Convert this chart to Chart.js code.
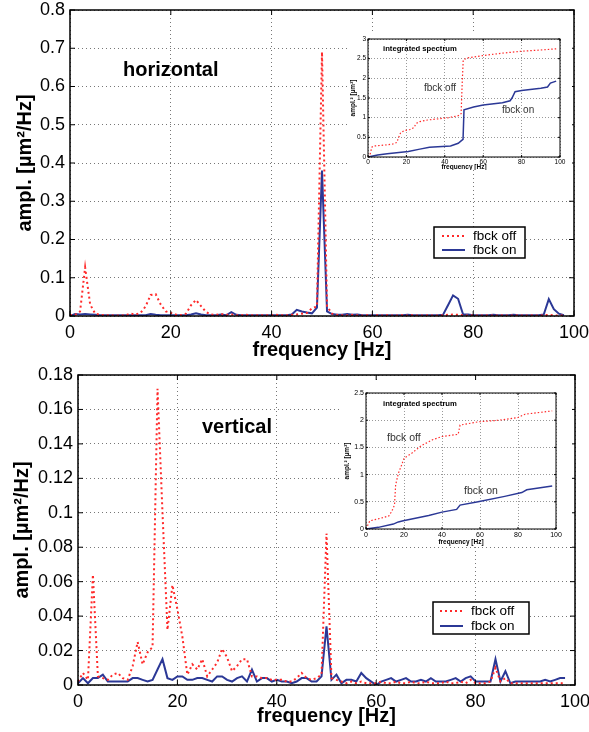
<!DOCTYPE html>
<html>
<head>
<meta charset="utf-8">
<script src="https://cdn.jsdelivr.net/npm/chart.js@4/dist/chart.umd.min.js"></script>
<style>
  body { margin: 0; background: #fff; width: 589px; height: 732px; position: relative; overflow: hidden; }
  canvas { position: absolute; }
  #insetTop, #insetBot { background: #fff; }
</style>
</head>
<body>
<canvas id="mainTop" width="589" height="360" style="left:0;top:0"></canvas>
<canvas id="mainBot" width="589" height="372" style="left:0;top:360px"></canvas>
<canvas id="insetTop" width="222" height="137" style="left:350px;top:33px"></canvas>
<canvas id="insetBot" width="232" height="164" style="left:340px;top:383px"></canvas>
<script>
const FONT = "'Liberation Sans', Arial, Helvetica, sans-serif";
const RED = '#ff2a2a';
const BLUE = '#2b3896';

// frequency bins of the spectra [Hz]
const freq = [0,1,2,3,4,5,6,7,8,9,10,11,12,13,14,15,16,17,18,19,20,21,22,23,24,25,26,27,28,29,
  30,31,32,33,34,35,36,37,38,39,40,41,42,43,44,45,46,47,48,49,50,51,52,53,54,55,56,57,58,59,
  60,61,62,63,64,65,66,67,68,69,70,71,72,73,74,75,76,77,78,79,80,81,82,83,84,85,86,87,88,89,
  90,91,92,93,94,95,96,97,98];

// horizontal spectrum [um^2/Hz]
const horOff = [0.002,0.003,0.012,0.127,0.03,0.006,0.003,0.002,0.002,0.001,0.001,0.002,0.006,0.004,0.008,0.025,0.055,0.057,0.03,0.012,
  0.008,0.004,0.002,0.006,0.028,0.042,0.026,0.01,0.004,0.003,0.005,0.003,0.004,0.002,0.002,0.003,0.002,0.002,0.002,0.002,
  0.002,0.003,0.002,0.002,0.003,0.004,0.006,0.008,0.02,0.025,0.69,0.025,0.006,0.003,0.002,0.002,0.003,0.002,0.001,0.002,
  0.001,0.002,0.001,0.002,0.001,0.001,0.002,0.001,0.002,0.001,0.001,0.002,0.001,0.001,0.002,0.003,0.004,0.003,0.002,0.001,
  0.002,0.001,0.001,0.002,0.001,0.001,0.002,0.001,0.001,0.002,0.001,0.001,0.002,0.001,0.002,0.003,0.002,0.001,0.001];
const horOn = [0,0.005,0.004,0.005,0.004,0.003,0.002,0.002,0.002,0.002,0.002,0.002,0.002,0.002,0.002,0.002,0.005,0.003,0.002,0.002,
  0.002,0.002,0.002,0.002,0.004,0.007,0.004,0.002,0.002,0.002,0.004,0.002,0.01,0.003,0.002,0.002,0.002,0.002,0.002,0.002,
  0.002,0.002,0.002,0.002,0.004,0.016,0.012,0.009,0.007,0.022,0.38,0.012,0.005,0.003,0.003,0.005,0.003,0.004,0.002,0.002,
  0.002,0.002,0.002,0.002,0.002,0.002,0.002,0.003,0.002,0.002,0.002,0.002,0.002,0.002,0.003,0.028,0.054,0.045,0.004,0.004,
  0.002,0.002,0.002,0.002,0.003,0.002,0.002,0.002,0.003,0.002,0.002,0.002,0.002,0.002,0.004,0.044,0.018,0.006,0.002];

// vertical spectrum [um^2/Hz]
const verOff = [0.002,0.007,0.003,0.064,0.005,0.004,0.003,0.006,0.007,0.004,0.003,0.011,0.025,0.012,0.019,0.022,0.172,0.1,0.032,0.058,
  0.044,0.028,0.006,0.012,0.009,0.015,0.005,0.009,0.013,0.021,0.016,0.008,0.011,0.015,0.015,0.005,0.005,0.004,0.004,0.003,
  0.003,0.003,0.002,0.002,0.004,0.007,0.004,0.003,0.004,0.006,0.088,0.004,0.003,0.002,0.001,0.002,0.001,0.002,0.001,0.001,
  0.001,0.002,0.001,0.001,0.002,0.001,0.001,0.002,0.001,0.001,0.002,0.001,0.001,0.001,0.002,0.001,0.001,0.002,0.001,0.003,
  0.001,0.001,0.001,0.002,0.01,0.002,0.004,0.001,0.001,0.001,0.001,0.001,0.001,0.001,0.001,0.001,0.001,0.001,0.001];
const verOn = [0.001,0.004,0.001,0.004,0.004,0.006,0.002,0.002,0.002,0.002,0.002,0.004,0.004,0.003,0.002,0.003,0.009,0.015,0.004,0.003,
  0.005,0.005,0.003,0.003,0.004,0.004,0.003,0.002,0.005,0.005,0.003,0.002,0.004,0.005,0.002,0.009,0.002,0.004,0.004,0.002,
  0.003,0.002,0.002,0.001,0.002,0.004,0.004,0.002,0.002,0.005,0.034,0.003,0.006,0.001,0.003,0.003,0.002,0.007,0.004,0.002,
  0,0.002,0.003,0.004,0.002,0.003,0.004,0.002,0.002,0.003,0.002,0.004,0.002,0.002,0.002,0.003,0.004,0.002,0.004,0.005,
  0.002,0.002,0.002,0.002,0.015,0.002,0.008,0.001,0.002,0.002,0.002,0.002,0.002,0.002,0.003,0.002,0.003,0.004,0.004];

// integrated spectra [um^2], read at the knees of each curve
const intHorOffF = [0,1,2,3,8,13,15,16,17,19,22,24,25,27,31,42,47,48.5,49,49.6,52,60,70,80,90,98];
const intHorOffV = [0,0.05,0.25,0.28,0.3,0.33,0.37,0.5,0.62,0.67,0.7,0.75,0.85,0.9,0.94,1.0,1.05,1.1,1.8,2.47,2.52,2.58,2.64,2.69,2.72,2.75];
const intHorOnF = [0,5,10,21,27,32,43,47,48.5,49.5,50,55,60,70,74,75,76.6,80,90,93.5,95,98];
const intHorOnV = [0,0.05,0.08,0.14,0.2,0.25,0.28,0.35,0.41,0.45,1.2,1.27,1.32,1.38,1.43,1.5,1.66,1.69,1.75,1.78,1.88,1.93];
const intVerOffF = [0,2,8,12,13.5,15,15.6,17,18.8,20,24,29,35,40,48.5,49.5,59,70,80,83.7,98];
const intVerOffV = [0,0.15,0.2,0.24,0.32,0.44,0.81,1.02,1.18,1.3,1.39,1.53,1.64,1.7,1.74,1.91,1.97,2.0,2.05,2.11,2.17];
const intVerOnF = [0,6.5,14.4,17,19.6,33,40,47.7,49.5,59,73,82,84.6,98];
const intVerOnV = [0,0.03,0.09,0.13,0.15,0.25,0.31,0.36,0.44,0.5,0.6,0.67,0.72,0.79];

const xTicksMain = [0, 20, 40, 60, 80, 100];

const pts = (xs, ys) => xs.map((x, i) => ({ x, y: ys[i] }));
const tickText = v => String(+v.toFixed(3));

// box round the plot area plus MATLAB style inward ticks
const framePlugin = {
  id: 'frame',
  afterDatasetsDraw(chart, args, o) {
    const { ctx, chartArea: a, scales } = chart;
    ctx.save();
    ctx.strokeStyle = '#000';
    ctx.lineWidth = o.tickWidth || 1;
    const len = o.tick || 0;
    if (len) {
      ctx.beginPath();
      scales.x.ticks.forEach(t => {
        const p = scales.x.getPixelForValue(t.value);
        ctx.moveTo(p, a.bottom); ctx.lineTo(p, a.bottom - len);
        ctx.moveTo(p, a.top); ctx.lineTo(p, a.top + len);
      });
      scales.y.ticks.forEach(t => {
        const p = scales.y.getPixelForValue(t.value);
        ctx.moveTo(a.left, p); ctx.lineTo(a.left + len, p);
        ctx.moveTo(a.right, p); ctx.lineTo(a.right - len, p);
      });
      ctx.stroke();
    }
    ctx.lineWidth = o.width || 1;
    ctx.strokeRect(a.left, a.top, a.right - a.left, a.bottom - a.top);
    ctx.restore();
  }
};

// boxed legend sitting inside the plot
const boxLegend = {
  id: 'boxLegend',
  afterDatasetsDraw(chart, args, o) {
    if (!o.box) return;
    const ctx = chart.ctx;
    const [x, y, w, h] = o.box;
    ctx.save();
    ctx.fillStyle = '#fff';
    ctx.fillRect(x, y, w, h);
    ctx.strokeStyle = '#000';
    ctx.lineWidth = 1.5;
    ctx.strokeRect(x, y, w, h);
    ctx.font = o.font;
    ctx.textBaseline = 'middle';
    chart.data.datasets.forEach((ds, i) => {
      const cy = y + o.rows[i];
      ctx.strokeStyle = ds.borderColor;
      ctx.lineWidth = ds.borderWidth;
      ctx.setLineDash(ds.borderDash || []);
      ctx.beginPath();
      ctx.moveTo(x + o.line[0], cy);
      ctx.lineTo(x + o.line[1], cy);
      ctx.stroke();
      ctx.setLineDash([]);
      ctx.fillStyle = '#000';
      ctx.fillText(ds.label, x + o.textX, cy);
    });
    ctx.restore();
  }
};

// free text notes
const notes = {
  id: 'notes',
  afterDatasetsDraw(chart, args, o) {
    const ctx = chart.ctx;
    ctx.save();
    ctx.textBaseline = 'middle';
    (o.items || []).forEach(n => {
      ctx.font = n.font;
      ctx.fillStyle = n.color || '#000';
      ctx.fillText(n.text, n.x, n.y);
    });
    ctx.restore();
  }
};

function makeChart(id, cfg) {
  const xAxis = {
    type: 'linear', min: 0, max: 100,
    afterBuildTicks: s => { s.ticks = xTicksMain.map(v => ({ value: v })); },
    afterFit: s => { s.height = cfg.xh; s.paddingLeft = 0; s.paddingRight = 0; },
    grid: { color: cfg.gridColor, lineWidth: 1, drawTicks: false },
    border: { display: false, dash: cfg.gridDash },
    ticks: { font: { family: FONT, size: cfg.tickSize }, color: '#000', padding: cfg.xPad, maxRotation: 0, callback: tickText },
    title: { display: true, text: 'frequency [Hz]', color: '#000',
      font: { family: FONT, size: cfg.titleSize, weight: 'bold', lineHeight: 1 },
      padding: { top: 0, bottom: cfg.xTitlePad } }
  };
  const yAxis = {
    type: 'linear', min: 0, max: cfg.yMax,
    afterFit: s => { s.width = cfg.yw; s.paddingTop = 0; s.paddingBottom = 0; },
    grid: { color: cfg.gridColor, lineWidth: 1, drawTicks: false },
    border: { display: false, dash: cfg.gridDash },
    ticks: { stepSize: cfg.yStep, font: { family: FONT, size: cfg.tickSize }, color: '#000', padding: cfg.yPad, callback: tickText },
    title: { display: true, text: cfg.yTitle, color: '#000',
      font: { family: FONT, size: cfg.titleSize, weight: 'bold', lineHeight: 1 },
      padding: { top: cfg.yTitlePad, bottom: 0 } }
  };
  return new Chart(document.getElementById(id), {
    type: 'line',
    data: { datasets: cfg.datasets },
    options: {
      responsive: false,
      animation: false,
      layout: { padding: cfg.pad },
      elements: { point: { radius: 0 }, line: { tension: 0 } },
      scales: { x: xAxis, y: yAxis },
      plugins: {
        legend: { display: false },
        tooltip: { enabled: false },
        frame: { width: cfg.frameW, tick: cfg.tickLen },
        boxLegend: cfg.legend || {},
        notes: { items: cfg.notes }
      }
    },
    plugins: [framePlugin, boxLegend, notes]
  });
}

const offStyle = (w, dash) => ({ label: 'fbck off', borderColor: RED, borderWidth: w, borderDash: dash });
const onStyle = w => ({ label: 'fbck on', borderColor: BLUE, borderWidth: w });

makeChart('mainTop', {
  datasets: [
    { ...offStyle(2, [2, 3]), data: pts(freq, horOff) },
    { ...onStyle(2), data: pts(freq, horOn) }
  ],
  yMax: 0.8, yStep: 0.1, yTitle: 'ampl. [µm²/Hz]',
  pad: { top: 10, right: 15, left: 0, bottom: 0 }, yw: 70, xh: 44,
  tickSize: 18, titleSize: 20, xPad: 6, yPad: 5, xTitlePad: 0, yTitlePad: 15,
  gridColor: '#777', gridDash: [1, 3], frameW: 1.5, tickLen: 5,
  legend: { box: [434, 227, 91, 31], rows: [9, 23], line: [8, 31], textX: 39, font: '13.5px ' + FONT },
  notes: [{ text: 'horizontal', x: 123, y: 70, font: 'bold 20px ' + FONT }]
});

makeChart('mainBot', {
  datasets: [
    { ...offStyle(2, [2, 3]), data: pts(freq, verOff) },
    { ...onStyle(2), data: pts(freq, verOn) }
  ],
  yMax: 0.18, yStep: 0.02, yTitle: 'ampl. [µm²/Hz]',
  pad: { top: 15, right: 14, left: 0, bottom: 0 }, yw: 78, xh: 47,
  tickSize: 18, titleSize: 20, xPad: 6, yPad: 5, xTitlePad: 6, yTitlePad: 12,
  gridColor: '#777', gridDash: [1, 3], frameW: 1.5, tickLen: 5,
  legend: { box: [433, 242, 96, 32], rows: [9, 24], line: [7, 30], textX: 38, font: '13.5px ' + FONT },
  notes: [{ text: 'vertical', x: 202, y: 67, font: 'bold 20px ' + FONT }]
});

makeChart('insetTop', {
  datasets: [
    { ...offStyle(1.2, [1.5, 2]), data: pts(intHorOffF, intHorOffV) },
    { ...onStyle(1.5), data: pts(intHorOnF, intHorOnV) }
  ],
  yMax: 3, yStep: 0.5, yTitle: 'ampl.² [µm²]',
  pad: { top: 6, right: 12, left: 0, bottom: 0 }, yw: 18, xh: 13,
  tickSize: 6.5, titleSize: 6.5, xPad: 1, yPad: 2, xTitlePad: 0, yTitlePad: 0,
  gridColor: '#999', gridDash: [1, 2], frameW: 1, tickLen: 2,
  notes: [
    { text: 'integrated spectrum', x: 33, y: 16, font: 'bold 7.7px ' + FONT },
    { text: 'fbck off', x: 74, y: 55, font: '10px ' + FONT, color: '#333' },
    { text: 'fbck on', x: 152, y: 77, font: '10px ' + FONT, color: '#333' }
  ]
});

makeChart('insetBot', {
  datasets: [
    { ...offStyle(1.2, [1.5, 2]), data: pts(intVerOffF, intVerOffV) },
    { ...onStyle(1.5), data: pts(intVerOnF, intVerOnV) }
  ],
  yMax: 2.5, yStep: 0.5, yTitle: 'ampl.² [µm²]',
  pad: { top: 10, right: 16, left: 0, bottom: 0 }, yw: 26, xh: 18,
  tickSize: 7, titleSize: 6.5, xPad: 1.5, yPad: 2, xTitlePad: 2, yTitlePad: 4,
  gridColor: '#999', gridDash: [1, 2], frameW: 1, tickLen: 2,
  notes: [
    { text: 'integrated spectrum', x: 43, y: 21, font: 'bold 7.7px ' + FONT },
    { text: 'fbck off', x: 47, y: 55, font: '10.5px ' + FONT, color: '#333' },
    { text: 'fbck on', x: 124, y: 108, font: '10.5px ' + FONT, color: '#333' }
  ]
});
</script>
</body>
</html>
